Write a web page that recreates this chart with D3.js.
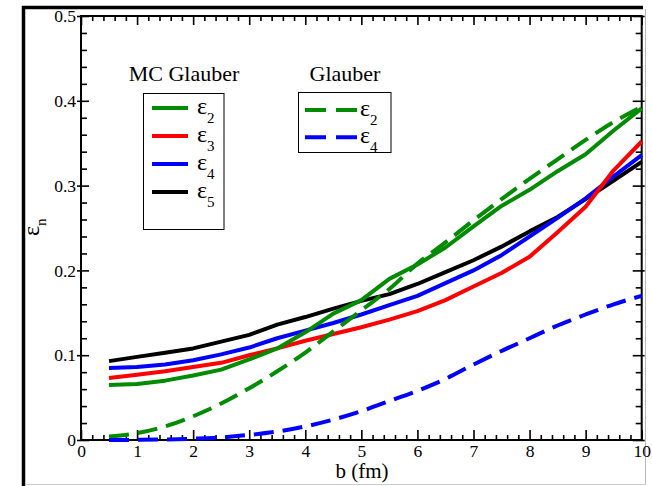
<!DOCTYPE html>
<html>
<head>
<meta charset="utf-8">
<script src="https://cdn.jsdelivr.net/npm/d3@7"></script>
<style>
  body { margin: 0; background: #fff; }
  svg { display: block; }
  svg text { font-family: "Liberation Serif", "Times New Roman", serif; }
</style>
</head>
<body>
<svg width="652" height="486"></svg>
<script>
// impact parameter b (fm)
const bVals = [0.5, 1, 1.5, 2, 2.5, 3, 3.5, 4, 4.5, 5, 5.5, 6, 6.5, 7, 7.5, 8, 8.5, 9, 9.5, 10]

// MC Glauber
const mcEps2 = [0.065, 0.066, 0.070, 0.076, 0.083, 0.095, 0.108, 0.127, 0.149, 0.165, 0.190, 0.207, 0.227, 0.252, 0.276, 0.295, 0.317, 0.337, 0.365, 0.391]
const mcEps3 = [0.073, 0.077, 0.081, 0.086, 0.091, 0.100, 0.108, 0.117, 0.125, 0.133, 0.142, 0.152, 0.165, 0.181, 0.197, 0.216, 0.245, 0.275, 0.318, 0.352]
const mcEps4 = [0.085, 0.086, 0.089, 0.094, 0.101, 0.109, 0.120, 0.129, 0.138, 0.148, 0.159, 0.170, 0.185, 0.200, 0.218, 0.240, 0.262, 0.285, 0.311, 0.336]
const mcEps5 = [0.093, 0.098, 0.103, 0.108, 0.116, 0.124, 0.136, 0.145, 0.155, 0.164, 0.172, 0.184, 0.198, 0.212, 0.228, 0.246, 0.263, 0.284, 0.306, 0.328]

// optical Glauber
const glEps2 = [0.004, 0.008, 0.016, 0.028, 0.043, 0.061, 0.081, 0.103, 0.128, 0.153, 0.178, 0.208, 0.233, 0.259, 0.284, 0.308, 0.331, 0.354, 0.375, 0.393]
const glEps4 = [0.000, 0.0002, 0.0006, 0.0015, 0.003, 0.006, 0.010, 0.016, 0.024, 0.034, 0.046, 0.058, 0.072, 0.089, 0.105, 0.120, 0.135, 0.148, 0.160, 0.170]

const xMajor = [0, 1, 2, 3, 4, 5, 6, 7, 8, 9, 10]
const yMajor = [0, 0.1, 0.2, 0.3, 0.4, 0.5]

const green = "#008b00", red = "#ff0000", blue = "#0000ff", black = "#000000"

const mcSeries = [
  { name: "2", values: mcEps2, color: green },
  { name: "3", values: mcEps3, color: red },
  { name: "4", values: mcEps4, color: blue },
  { name: "5", values: mcEps5, color: black }
]
const glSeries = [
  { name: "2", values: glEps2, color: green },
  { name: "4", values: glEps4, color: blue }
]

const svg = d3.select("svg")

const plotLeft = 81, plotRight = 641.7, plotTop = 16, plotBottom = 440

const scaleX = d3.scaleLinear().domain([0, 10]).range([plotLeft, plotRight])
const scaleY = d3.scaleLinear().domain([0, 0.5]).range([plotBottom, plotTop])

// outer frame (thick black on left/top, thin grey on right/bottom)
svg.append("line").attr("x1", 23.5).attr("x2", 23.5).attr("y1", 6).attr("y2", 486)
  .attr("stroke", "#000").attr("stroke-width", 3.5)
svg.append("line").attr("x1", 22).attr("x2", 643).attr("y1", 7.5).attr("y2", 7.5)
  .attr("stroke", "#000").attr("stroke-width", 3.5)
svg.append("line").attr("x1", 645.5).attr("x2", 645.5).attr("y1", 9).attr("y2", 484.5)
  .attr("stroke", "#bbb").attr("stroke-width", 1)
svg.append("line").attr("x1", 25).attr("x2", 646).attr("y1", 484.5).attr("y2", 484.5)
  .attr("stroke", "#ccc").attr("stroke-width", 1)

const minorX = d3.range(0, 50.5, 1).map(d => d / 5).filter(d => d % 1 !== 0)
const minorY = d3.range(0, 25.5, 1).map(d => d / 50).filter(d => Math.round(d * 50) % 5 !== 0)

const fmtY = d => d === 0 ? "0" : d3.format(".1f")(d)

function styleAxis(g) {
  g.select(".domain").remove()
  g.selectAll(".tick line").attr("stroke", "#000").attr("stroke-width", 1.6)
  g.selectAll("text").attr("fill", "#000").attr("font-size", 17.5)
}

// bottom
svg.append("g").attr("transform", `translate(0, ${plotBottom})`)
  .call(d3.axisBottom(scaleX).tickValues(minorX).tickSize(-5).tickFormat(""))
  .call(styleAxis)
svg.append("g").attr("transform", `translate(0, ${plotBottom})`)
  .call(d3.axisBottom(scaleX).tickValues(xMajor).tickSize(-10).tickPadding(4.5).tickFormat(d3.format("d")))
  .call(styleAxis)

// top
svg.append("g").attr("transform", `translate(0, ${plotTop})`)
  .call(d3.axisTop(scaleX).tickValues(minorX).tickSize(-5).tickFormat(""))
  .call(styleAxis)
svg.append("g").attr("transform", `translate(0, ${plotTop})`)
  .call(d3.axisTop(scaleX).tickValues(xMajor).tickSize(-9).tickFormat(""))
  .call(styleAxis)

// left
svg.append("g").attr("transform", `translate(${plotLeft}, 0)`)
  .call(d3.axisLeft(scaleY).tickValues(minorY).tickSize(-6).tickFormat(""))
  .call(styleAxis)
const leftMajor = svg.append("g").attr("transform", `translate(${plotLeft}, 0)`)
  .call(d3.axisLeft(scaleY).tickValues(yMajor).tickSize(-8).tickPadding(5).tickFormat(fmtY))
  .call(styleAxis)
leftMajor.selectAll(".tick line").attr("x1", -4)

// right
svg.append("g").attr("transform", `translate(${plotRight}, 0)`)
  .call(d3.axisRight(scaleY).tickValues(minorY).tickSize(-6).tickFormat(""))
  .call(styleAxis)
const rightMajor = svg.append("g").attr("transform", `translate(${plotRight}, 0)`)
  .call(d3.axisRight(scaleY).tickValues(yMajor).tickSize(-9).tickFormat(""))
  .call(styleAxis)
rightMajor.selectAll(".tick line").attr("x1", 3)

// plot frame
svg.append("rect")
  .attr("x", plotLeft).attr("y", plotTop)
  .attr("width", plotRight - plotLeft).attr("height", plotBottom - plotTop)
  .attr("fill", "none").attr("stroke", "#000").attr("stroke-width", 2)

// axis titles
svg.append("text")
  .attr("x", 362).attr("y", 478)
  .attr("text-anchor", "middle")
  .attr("font-size", 21)
  .text("b (fm)")

const yTitle = svg.append("text")
  .attr("transform", "translate(39, 236) rotate(-90)")
  .attr("font-size", 24)
yTitle.append("tspan").text("ε")
yTitle.append("tspan").attr("font-size", 15).attr("dy", 7).text("n")

// curves
const line = d3.line()
  .x((d, i) => scaleX(bVals[i]))
  .y(d => scaleY(d))

const dashLine = d3.line()
  .x((d, i) => scaleX(bVals[i]))
  .y(d => scaleY(d))
  .curve(d3.curveMonotoneX)

svg.selectAll("path.mc")
  .data(mcSeries.slice().reverse())
  .enter()
  .append("path")
  .attr("class", "mc")
  .attr("d", d => line(d.values))
  .attr("fill", "none")
  .attr("stroke", d => d.color)
  .attr("stroke-width", 4)
  .attr("stroke-linejoin", "round")

svg.selectAll("path.gl")
  .data(glSeries)
  .enter()
  .append("path")
  .attr("class", "gl")
  .attr("d", d => dashLine(d.values))
  .attr("fill", "none")
  .attr("stroke", d => d.color)
  .attr("stroke-width", 4)
  .attr("stroke-dasharray", "20,9")

// legends
function epsLabel(g, x, y, sub) {
  const t = g.append("text").attr("x", x).attr("y", y).attr("font-size", 24)
  t.append("tspan").text("ε")
  t.append("tspan").attr("font-size", 15).attr("dy", 9).text(sub)
}

const mcLegend = svg.append("g")
mcLegend.append("text")
  .attr("x", 184).attr("y", 81)
  .attr("text-anchor", "middle")
  .attr("font-size", 22)
  .text("MC Glauber")
mcLegend.append("rect")
  .attr("x", 143.5).attr("y", 93.5).attr("width", 80.5).attr("height", 136)
  .attr("fill", "none").attr("stroke", "#000").attr("stroke-width", 1)
mcSeries.forEach((s, i) => {
  const ly = 108 + i * 28
  mcLegend.append("line")
    .attr("x1", 152).attr("x2", 188).attr("y1", ly).attr("y2", ly)
    .attr("stroke", s.color).attr("stroke-width", 4)
  epsLabel(mcLegend, 197, ly + 6, s.name)
})

const glLegend = svg.append("g")
glLegend.append("text")
  .attr("x", 345).attr("y", 81)
  .attr("text-anchor", "middle")
  .attr("font-size", 22)
  .text("Glauber")
glLegend.append("rect")
  .attr("x", 298.5).attr("y", 92.5).attr("width", 92.5).attr("height", 60)
  .attr("fill", "none").attr("stroke", "#000").attr("stroke-width", 1)
glSeries.forEach((s, i) => {
  const ly = 110 + i * 27.3
  glLegend.append("line")
    .attr("x1", 305).attr("x2", 357).attr("y1", ly).attr("y2", ly)
    .attr("stroke", s.color).attr("stroke-width", 4)
    .attr("stroke-dasharray", "21,10")
  epsLabel(glLegend, 360, ly + 6, s.name)
})
</script>
</body>
</html>
